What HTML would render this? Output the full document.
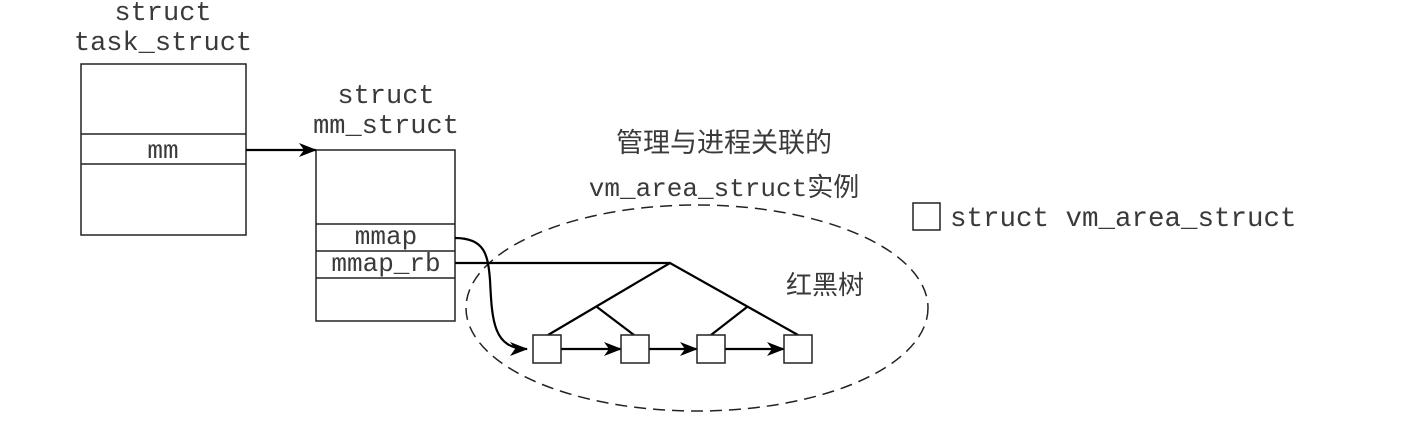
<!DOCTYPE html>
<html><head><meta charset="utf-8"><style>
body{margin:0;background:#fff;}
svg text{font-family:"Liberation Mono","Noto Sans CJK SC",monospace;fill:#3a3a3a;}
</style></head><body>
<svg width="1417" height="425" viewBox="0 0 1417 425" xmlns="http://www.w3.org/2000/svg">
<defs><marker id="a" markerWidth="18" markerHeight="14" refX="17" refY="7" orient="auto" markerUnits="userSpaceOnUse"><path d="M0,0 L18,7 L0,14 L5,7 z" fill="#000"/></marker></defs>
<g font-size="27" text-anchor="middle">
<text x="163" y="20">struct</text>
<text x="163" y="50">task_struct</text>
<text x="386" y="103">struct</text>
<text x="386" y="133">mm_struct</text>
</g>
<g fill="none" stroke="#222" stroke-width="1.5">
<rect x="81" y="64" width="165" height="171"/>
<line x1="81" y1="134" x2="246" y2="134"/><line x1="81" y1="164" x2="246" y2="164"/>
<rect x="316" y="150" width="139" height="171"/>
<line x1="316" y1="224" x2="455" y2="224"/><line x1="316" y1="251" x2="455" y2="251"/><line x1="316" y1="278" x2="455" y2="278"/>
<ellipse cx="697" cy="308" rx="231" ry="103" stroke-dasharray="12,7" stroke-width="1.5"/>
<rect x="913" y="203" width="27" height="27"/>
</g>
<g font-size="26" text-anchor="middle">
<text x="163" y="158">mm</text>
<text x="386" y="244">mmap</text>
<text x="386" y="271">mmap_rb</text>
</g>
<g fill="none" stroke="#000" stroke-width="2.2">
<line x1="246" y1="150" x2="316" y2="150" marker-end="url(#a)"/>
<line x1="455" y1="263" x2="670" y2="263"/>
<polyline points="548,335 670,263 798,335"/>
<line x1="597" y1="307" x2="634" y2="335"/>
<line x1="747" y1="307" x2="711" y2="335"/>
<path d="M455,238 C485,238 488,255 490,280 C492,320 493,349 527,349" marker-end="url(#a)"/>
<line x1="561" y1="349" x2="621" y2="349" marker-end="url(#a)"/>
<line x1="649" y1="349" x2="697" y2="349" marker-end="url(#a)"/>
<line x1="725" y1="349" x2="784" y2="349" marker-end="url(#a)"/>
</g>
<g fill="#fff" stroke="#222" stroke-width="1.5">
<rect x="533" y="335" width="28" height="28"/><rect x="621" y="335" width="28" height="28"/>
<rect x="697" y="335" width="28" height="28"/><rect x="784" y="335" width="28" height="28"/>
</g>
<g>
<text x="724" y="152" text-anchor="middle" font-size="27">管理与进程关联的</text>
<text x="724" y="196" text-anchor="middle" font-size="26">vm_area_struct实例</text>
<text x="825" y="294" text-anchor="middle" font-size="26">红黑树</text>
<text x="950" y="226" font-size="27.5">struct vm_area_struct</text>
</g>
</svg>
</body></html>
